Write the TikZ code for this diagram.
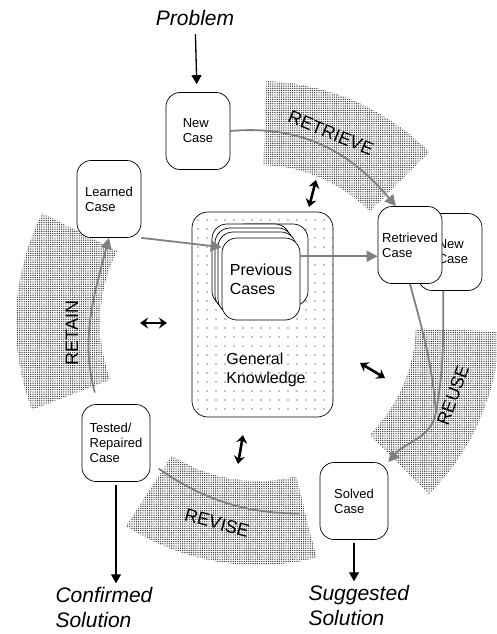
\documentclass[tikz,border=0pt]{standalone}
\usepackage{fontspec}
\setmainfont{Liberation Sans}
\usetikzlibrary{arrows.meta, patterns.meta, calc}

\begin{document}
\begin{tikzpicture}[x=1pt, y=-1pt,
  casebox/.style={draw, fill=white, rounded corners=14pt, line width=0.7pt,
    minimum width=64pt, minimum height=77pt, inner sep=2pt, align=left,
    font=\fontsize{13}{15}\selectfont},
  card/.style={draw, fill=white, rounded corners=15pt, line width=0.7pt},
  band/.style={pattern={Dots[distance=2.2pt, radius=0.7pt]}, pattern color=black!80},
  phase/.style={font=\fontsize{18}{20}\selectfont},
  outtext/.style={align=left, font=\fontsize{21}{25}\selectfont\itshape},
  flow/.style={draw=black!50, line width=1.8pt, -{Triangle[length=11pt, width=11pt]}},
  link/.style={line width=1.3pt, -{Triangle[length=9pt, width=10pt]}},
  kn/.style={line width=2.6pt, {Stealth[length=8pt, width=11pt]}-{Stealth[length=8pt, width=11pt]}}]
  \useasboundingbox (0,0) rectangle (496,634);
  \coordinate (hub) at (258,323);

  % shaded bands of the four phases
  \foreach \a/\b in {45/88, 153/201, 237/284, -45/-2}
    \fill[band] ($(hub)+(\a:158pt)$) arc[start angle=\a, end angle=\b, radius=158pt]
      -- ($(hub)+(\b:242pt)$) arc[start angle=\b, end angle=\a, radius=242pt] -- cycle;
  \node[phase, rotate=-22] (retrieve) at (331,133) {RETRIEVE};
  \node[phase, rotate=90] (retain) at (72,333) {RETAIN};
  \node[phase, rotate=-15] (revise) at (217,523) {REVISE};
  \node[phase, rotate=70] (reuse) at (453,395) {REUSE};

  % general knowledge with the case base
  \node[draw, rounded corners=16pt, line width=0.7pt, minimum width=141pt, minimum height=205pt,
    pattern={Dots[distance=9pt, radius=0.6pt]}] (knowledge) at (262.5,314.5) {};
  \node[align=left, font=\fontsize{16}{19}\selectfont] (gktext) at (266,370) {General\\Knowledge};
  \foreach \dx/\dy in {8/-14, -10/-14, -7/-10, -4/-6}
    \draw[card] (222+\dx,238+\dy) rectangle +(78,82);
  \node[card, minimum width=78pt, minimum height=82pt, align=left,
    font=\fontsize{16}{19}\selectfont] (prevcases) at (261,279) {Previous\\Cases};

  % cases
  \node[casebox] (newcase) at (198,131) {New\\Case};
  \node[casebox] (learned) at (109,199) {Learned\\Case};
  \node[casebox] (newcase2) at (450,252) {\hspace*{6pt}New\\\hspace*{6pt}Case};
  \node[casebox] (retrieved) at (410,245) {Retrieved\\Case};
  \node[casebox, minimum width=68pt] (solved) at (354,501) {Solved\\Case};
  \node[casebox, minimum width=68pt] (tested) at (116,443) {Tested/\\Repaired\\Case};

  % problem and solutions
  \node[outtext] (problem) at (195,18) {Problem};
  \node[outtext, anchor=west] (confirmed) at (52,607) {Confirmed\\Solution};
  \node[outtext, anchor=west] (suggested) at (305,605) {Suggested\\Solution};
  \draw[link, shorten <=5pt, shorten >=8pt] (problem) -- (newcase);
  \draw[link, shorten <=3pt] (solved.south) -- (solved.south |- suggested.north);
  \draw[link, shorten <=3pt] (tested.south) -- (tested.south |- confirmed.north);

  % the cycle
  \coordinate (reusejoin) at (436,412);
  \draw[flow] (newcase.east) to[out=5, in=130] (retrieved.110);
  \draw[flow] (learned.south east) -- (prevcases.141);
  \draw[flow] (prevcases.30) -- (prevcases.30 -| retrieved.west);
  \draw[draw=black!50, line width=1.8pt] (retrieved.south) to[out=-75, in=95] (reusejoin);
  \draw[draw=black!50, line width=1.8pt] (newcase2.-100) to[out=-90, in=80] (reusejoin);
  \draw[flow] (reusejoin) to[out=-100, in=50] (solved.north east);
  \draw[draw=black!50, line width=1.8pt, shorten <=20pt, shorten >=10pt]
    (solved.200) to[out=180, in=-35] (tested.-30);
  \draw[flow, shorten <=12pt] (tested.115) to[out=105, in=-105] (learned.south);

  % use of general knowledge
  \draw[kn] (316,180) -- (309,207);
  \draw[kn] (140,323) -- (167,323);
  \draw[kn] (360,363) -- (385,378);
  \draw[kn] (243,435) -- (238,464);
\end{tikzpicture}
\end{document}
